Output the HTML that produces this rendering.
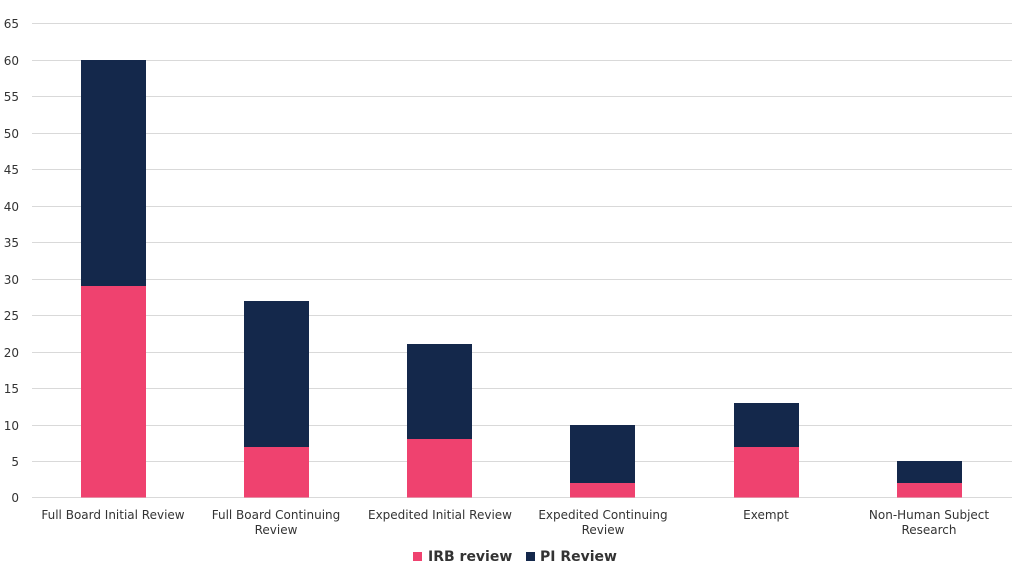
<!DOCTYPE html>
<html><head><meta charset="utf-8"><style>
body{margin:0;background:#fff;}
svg text{font-family:"DejaVu Sans","Liberation Sans",sans-serif;fill:#333;}
</style></head><body>
<svg width="1024" height="576" xmlns="http://www.w3.org/2000/svg">
<g stroke="#d9d9d9" stroke-width="1">
<line x1="32" x2="1012" y1="23.5" y2="23.5"/><line x1="32" x2="1012" y1="60.5" y2="60.5"/>
<line x1="32" x2="1012" y1="96.5" y2="96.5"/><line x1="32" x2="1012" y1="133.5" y2="133.5"/>
<line x1="32" x2="1012" y1="169.5" y2="169.5"/><line x1="32" x2="1012" y1="206.5" y2="206.5"/>
<line x1="32" x2="1012" y1="242.5" y2="242.5"/><line x1="32" x2="1012" y1="279.5" y2="279.5"/>
<line x1="32" x2="1012" y1="315.5" y2="315.5"/><line x1="32" x2="1012" y1="352.5" y2="352.5"/>
<line x1="32" x2="1012" y1="388.5" y2="388.5"/><line x1="32" x2="1012" y1="425.5" y2="425.5"/>
<line x1="32" x2="1012" y1="461.5" y2="461.5"/><line x1="32" x2="1012" y1="497.5" y2="497.5"/>
</g>
<g font-size="12" text-anchor="end">
<text x="19" y="28">65</text><text x="19" y="65">60</text><text x="19" y="101">55</text>
<text x="19" y="138">50</text><text x="19" y="174">45</text><text x="19" y="211">40</text>
<text x="19" y="247">35</text><text x="19" y="284">30</text><text x="19" y="320">25</text>
<text x="19" y="357">20</text><text x="19" y="393">15</text><text x="19" y="430">10</text>
<text x="19" y="466">5</text><text x="19" y="502">0</text>
</g>
<g>
<rect x="81" y="60" width="65" height="226" fill="#14284B"/><rect x="81" y="286" width="65" height="211.5" fill="#EF426F"/>
<rect x="244" y="301" width="65" height="146" fill="#14284B"/><rect x="244" y="447" width="65" height="50.5" fill="#EF426F"/>
<rect x="407" y="344" width="65" height="95" fill="#14284B"/><rect x="407" y="439" width="65" height="58.5" fill="#EF426F"/>
<rect x="570" y="425" width="65" height="58" fill="#14284B"/><rect x="570" y="483" width="65" height="14.5" fill="#EF426F"/>
<rect x="734" y="403" width="65" height="44" fill="#14284B"/><rect x="734" y="447" width="65" height="50.5" fill="#EF426F"/>
<rect x="897" y="461" width="65" height="22" fill="#14284B"/><rect x="897" y="483" width="65" height="14.5" fill="#EF426F"/>
</g>
<g font-size="12" text-anchor="middle">
<text x="113" y="519">Full Board Initial Review</text>
<text x="276" y="519">Full Board Continuing</text><text x="276" y="534">Review</text>
<text x="440" y="519">Expedited Initial Review</text>
<text x="603" y="519">Expedited Continuing</text><text x="603" y="534">Review</text>
<text x="766" y="519">Exempt</text>
<text x="929" y="519">Non-Human Subject</text><text x="929" y="534">Research</text>
</g>
<rect x="413" y="552" width="9" height="9" fill="#EF426F"/>
<text x="428" y="561" font-size="14" font-weight="bold">IRB review</text>
<rect x="526" y="552" width="9" height="9" fill="#14284B"/>
<text x="540" y="561" font-size="14" font-weight="bold">PI Review</text>
</svg>
</body></html>
